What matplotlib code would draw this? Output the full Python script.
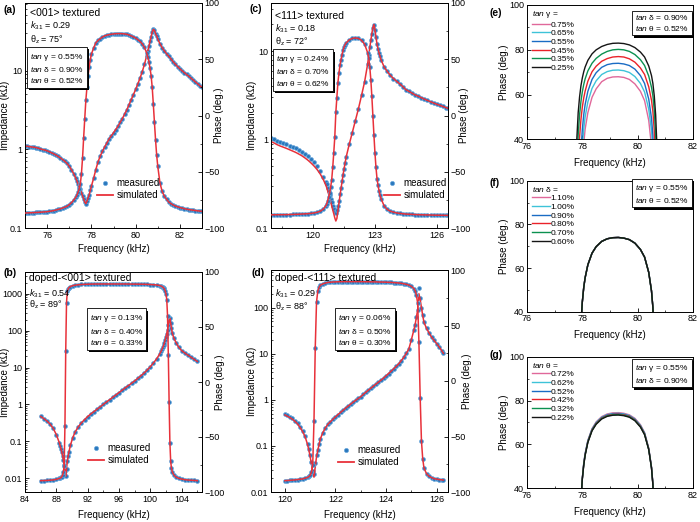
import matplotlib
matplotlib.use("Agg")
import matplotlib.pyplot as plt
import matplotlib.patheffects as pe
from matplotlib.lines import Line2D
from matplotlib.ticker import FixedLocator, MultipleLocator, LogLocator, NullFormatter

# ---------------- data ----------------
# (a) <001> textured
freq_a = [75.0, 75.1, 75.2, 75.3, 75.4, 75.5, 75.6, 75.7, 75.8, 75.9, 76.0, 76.1, 76.2, 76.3, 76.4,
          76.5, 76.6, 76.7, 76.8, 76.9, 77.0, 77.1, 77.2, 77.3,
          77.35, 77.4, 77.45, 77.5, 77.55, 77.6, 77.65, 77.7, 77.75, 77.8, 77.85, 77.9, 77.95, 78.0,
          78.1, 78.2, 78.3, 78.4, 78.5, 78.6, 78.7, 78.8, 78.9, 79.0, 79.1, 79.2, 79.3, 79.4, 79.5,
          79.6, 79.7, 79.8, 79.9, 80.0, 80.1, 80.2, 80.3, 80.4, 80.5,
          80.55, 80.6, 80.65, 80.7, 80.75, 80.8, 80.85, 80.9, 80.95, 81.0,
          81.1, 81.2, 81.3, 81.4, 81.5, 81.6, 81.7, 81.8, 81.9, 82.0, 82.1, 82.2, 82.3, 82.4, 82.5,
          82.6, 82.7, 82.8, 82.9, 83.0]
imp_a = [1.10, 1.09, 1.08, 1.07, 1.06, 1.05, 1.03, 1.01, 0.99, 0.975, 0.955, 0.93, 0.90, 0.875, 0.845,
         0.81, 0.776, 0.74, 0.703, 0.66, 0.61, 0.55, 0.49, 0.427,
         0.394, 0.363, 0.335, 0.309, 0.282, 0.257, 0.234, 0.214, 0.204, 0.219, 0.24, 0.264, 0.30, 0.339,
         0.427, 0.55, 0.69, 0.82, 0.944, 1.07, 1.2, 1.35, 1.48, 1.62, 1.78, 1.95, 2.19, 2.45, 2.79,
         3.16, 3.67, 4.27, 4.95, 5.75, 6.76, 8.04, 9.66, 12.0, 15.5,
         17.8, 20.4, 23.4, 26.9, 30.9, 33.3, 32.4, 29.5, 27.5, 25.1,
         21.9, 19.5, 17.8, 16.3, 15.1, 14.0, 12.9, 12.0, 11.2, 10.5, 9.93, 9.4, 8.91, 8.45, 8.0,
         7.59, 7.18, 6.79, 6.43, 6.1]
phase_a = [-86.7, -86.6, -86.5, -86.4, -86.3, -86.2, -86.1, -85.95, -85.8, -85.65, -85.5, -85.2, -84.9,
           -84.5, -84.0, -83.5, -82.9, -82.2, -81.5, -80.7, -79.2, -77.5, -75.2, -72.5,
           -70.5, -68, -65, -61, -52, -38, -20, -3, 13.5, 25, 35.5, 43, 49.5, 54.5,
           60, 64.5, 66.8, 68.3, 69.7, 70.8, 71.4, 71.9, 72.2, 72.5, 72.7, 72.8, 72.8, 72.7, 72.5,
           72.2, 71.6, 70.8, 69.9, 68.8, 67.4, 65.8, 63.6, 60.5, 55.5,
           52, 48, 42, 35.5, 25, 10, -6, -21.5, -35, -45,
           -60, -67.5, -71.8, -74.5, -77, -78.4, -79.6, -80.5, -81.2, -81.8, -82.3, -82.8, -83.3,
           -83.6, -83.9, -84.2, -84.45, -84.7, -84.95, -85.2]

# (c) <111> textured
freq_c = [117.95, 118.1, 118.25, 118.4, 118.55, 118.7, 118.85, 119.0, 119.15, 119.3, 119.45, 119.6,
          119.75, 119.9, 120.05, 120.2, 120.35, 120.5,
          120.6, 120.65, 120.7, 120.75, 120.8, 120.85, 120.9, 120.95, 121.0, 121.05, 121.1, 121.15,
          121.2, 121.25, 121.3, 121.35, 121.4, 121.45, 121.5, 121.55, 121.6,
          121.75, 121.9, 122.05, 122.2, 122.35, 122.5, 122.65,
          122.7, 122.75, 122.8, 122.85, 122.9, 122.95, 123.0, 123.05, 123.1, 123.15, 123.2, 123.25, 123.3,
          123.45, 123.6, 123.75, 123.9, 124.05, 124.2, 124.35, 124.5, 124.65, 124.8, 124.95, 125.1,
          125.25, 125.4, 125.55, 125.7, 125.85, 126.0, 126.15, 126.3, 126.45, 126.55]
imp_meas_c = [1.05, 1.01, 0.966, 0.935, 0.908, 0.881, 0.851, 0.822, 0.794, 0.759, 0.726, 0.687,
              0.646, 0.60, 0.552, 0.501, 0.442, 0.38,
              0.335, 0.313, 0.285, 0.26, 0.237, 0.215, 0.195, 0.178, 0.162, 0.151, 0.148, 0.158,
              0.178, 0.204, 0.24, 0.284, 0.336, 0.398, 0.468, 0.543, 0.631,
              0.881, 1.2, 1.64, 2.24, 3.16, 4.52, 7.24,
              9.0, 11.0, 13.2, 15.8, 18.2, 19.5, 17.4, 14.5, 12.0, 10.6, 9.55, 8.7, 7.94,
              6.61, 5.89, 5.31, 4.9, 4.57, 4.27, 3.98, 3.67, 3.51, 3.35, 3.2, 3.09,
              2.98, 2.87, 2.77, 2.68, 2.59, 2.51, 2.44, 2.37, 2.3, 2.25]
imp_sim_c = [0.95, 0.915, 0.875, 0.845, 0.82, 0.795, 0.768, 0.742, 0.716, 0.686, 0.656, 0.62,
             0.583, 0.542, 0.50, 0.455, 0.405, 0.35,
             0.31, 0.29, 0.265, 0.242, 0.22, 0.198, 0.178, 0.16, 0.145, 0.13, 0.12, 0.128,
             0.155, 0.19, 0.23, 0.278, 0.33, 0.398, 0.468, 0.543, 0.631,
             0.881, 1.2, 1.64, 2.24, 3.16, 4.52, 7.24,
             9.0, 11.0, 13.2, 15.8, 18.5, 20.0, 17.4, 14.5, 12.0, 10.6, 9.55, 8.7, 7.94,
             6.61, 5.89, 5.31, 4.9, 4.57, 4.27, 3.98, 3.67, 3.51, 3.35, 3.2, 3.09,
             2.98, 2.87, 2.77, 2.68, 2.59, 2.51, 2.44, 2.37, 2.3, 2.25]
phase_c = [-88.3, -88.25, -88.2, -88.18, -88.15, -88.1, -88.0, -87.95, -87.85, -87.75, -87.6, -87.45,
           -87.25, -87.0, -86.6, -86.0, -85.0, -83,
           -80.5, -79, -76, -72.5, -69, -63.5, -57, -46, -33, -19, 2.7, 16,
           29, 37.5, 44.5, 49.5, 54, 58, 61, 63, 64.5,
           67.2, 68.5, 69, 68.5, 66.8, 63.3, 55.5,
           51, 43, 32, 17, 0, -17, -33, -46, -56, -62, -67, -71, -74,
           -80.5, -83.5, -85.1, -85.9, -86.6, -87.0, -87.3, -87.6, -87.75, -87.9, -88.05, -88.15,
           -88.25, -88.35, -88.4, -88.45, -88.55, -88.6, -88.65, -88.7, -88.75, -88.8]

# (b) doped-<001> textured
freq_b = [86.0, 86.4, 86.8, 87.2, 87.6, 88.0, 88.4,
          88.5, 88.6, 88.7, 88.8, 88.9, 89.0, 89.1, 89.2, 89.3, 89.4, 89.5, 89.6,
          89.8, 90.1,
          90.4, 90.8, 91.2, 91.6, 92.0, 92.4, 92.8, 93.2, 93.6, 94.0, 94.4, 94.8, 95.2, 95.6,
          96.0, 96.4, 96.8, 97.2, 97.6, 98.0, 98.4, 98.8, 99.2, 99.6, 100.0, 100.4, 100.8, 101.2,
          101.4, 101.5, 101.6, 101.7, 101.8, 101.9, 102.0, 102.1, 102.2, 102.3, 102.4, 102.5,
          102.6, 102.7, 102.8,
          103.0, 103.3, 103.6, 104.0, 104.4, 104.8, 105.2, 105.6, 106.0]
imp_b = [0.47, 0.412, 0.355, 0.292, 0.224, 0.151, 0.089,
         0.074, 0.062, 0.05, 0.04, 0.031, 0.0224, 0.0158, 0.0112, 0.0178, 0.0283, 0.039, 0.05,
         0.078, 0.126,
         0.178, 0.245, 0.316, 0.385, 0.468, 0.55, 0.638, 0.738, 0.859, 1.0, 1.16, 1.34, 1.56, 1.8,
         2.09, 2.42, 2.81, 3.24, 3.74, 4.32, 5.07, 5.96, 7.08, 8.55, 10.5, 13.3, 17.1, 23.4,
         28.2, 31.6, 35.5, 39.8, 47.3, 56.2, 68.4, 83.2, 107, 141, 185, 215,
         158, 115, 87,
         63, 46.8, 36.3, 28.8, 24.8, 21.6, 19.0, 16.7, 14.6]
phase_b = [-89.7, -89.6, -89.5, -89.3, -89.0, -88.5, -87.6,
           -87.3, -86.8, -86, -84.5, -82, -76, -40, 28, 72, 82.4, 84.5, 85.7,
           86.8, 87.6,
           88.0, 88.4, 88.65, 88.8, 88.9, 89.0, 89.05, 89.1, 89.1, 89.1, 89.1, 89.1, 89.1, 89.1,
           89.1, 89.1, 89.1, 89.05, 89.0, 89.0, 88.95, 88.9, 88.85, 88.75, 88.6, 88.45, 88.2, 87.7,
           87.2, 86.8, 86.2, 85.5, 84.5, 83, 80, 75, 60, 25, -18, -55,
           -72, -78.5, -81.5,
           -84.5, -86.5, -87.5, -88.3, -88.8, -89.1, -89.3, -89.5, -89.7]

# (d) doped-<111> textured
freq_d = [120.0, 120.1, 120.2, 120.3, 120.4, 120.5, 120.6, 120.7, 120.8, 120.9,
          120.95, 121.0, 121.05, 121.1, 121.15, 121.2, 121.25, 121.3, 121.35,
          121.4, 121.5, 121.6, 121.7, 121.8, 121.9, 122.0, 122.1, 122.2, 122.3, 122.4, 122.5, 122.6,
          122.7, 122.8, 122.9, 123.0, 123.1, 123.2, 123.3, 123.4, 123.5, 123.6, 123.7, 123.8, 123.9,
          124.0, 124.1, 124.2, 124.3, 124.4, 124.5, 124.6, 124.7, 124.8, 124.9, 125.0, 125.1,
          125.15, 125.2, 125.25, 125.3, 125.35, 125.4, 125.45,
          125.5, 125.6, 125.7, 125.8, 125.9, 126.0, 126.1, 126.2, 126.27]
imp_meas_d = [0.49, 0.457, 0.427, 0.394, 0.355, 0.313, 0.263, 0.214, 0.166, 0.112,
              0.085, 0.063, 0.0447, 0.0282, 0.0251, 0.0417, 0.063, 0.083, 0.11,
              0.141, 0.195, 0.245, 0.295, 0.335, 0.38, 0.427, 0.479, 0.533, 0.593, 0.661, 0.73, 0.807,
              0.891, 0.977, 1.07, 1.17, 1.31, 1.46, 1.62, 1.79, 1.98, 2.19, 2.42, 2.67, 2.95,
              3.31, 3.72, 4.17, 4.71, 5.33, 6.03, 7.08, 8.32, 10.2, 12.6, 20, 32.7,
              42.7, 61.7, 89, 270, 158, 100, 67.6,
              47.9, 35.5, 28.2, 22.9, 19.5, 16.6, 14.1, 11.7, 10.2]
imp_sim_d = [0.47, 0.44, 0.41, 0.378, 0.34, 0.30, 0.252, 0.205, 0.158, 0.105,
             0.08, 0.058, 0.04, 0.026, 0.021, 0.035, 0.058, 0.08, 0.107,
             0.141, 0.195, 0.245, 0.295, 0.335, 0.38, 0.427, 0.479, 0.533, 0.593, 0.661, 0.73, 0.807,
             0.891, 0.977, 1.07, 1.17, 1.31, 1.46, 1.62, 1.79, 1.98, 2.19, 2.42, 2.67, 2.95,
             3.31, 3.72, 4.17, 4.71, 5.33, 6.03, 7.08, 8.32, 10.2, 12.6, 20, 32.7,
             42.7, 61.7, 89, 200, 150, 100, 67.6,
             47.9, 35.5, 28.2, 22.9, 19.5, 16.6, 14.1, 11.7, 10.2]
phase_d = [-89.8, -89.65, -89.5, -89.3, -89.1, -88.8, -88.5, -88.2, -87.6, -86.8,
           -86.0, -84.8, -82, -75.4, -36, 30, 71, 81, 84.3,
           86.3, 87.5, 88.2, 88.8, 89.0, 89.2, 89.3, 89.4, 89.45, 89.5, 89.5, 89.5, 89.5,
           89.5, 89.5, 89.5, 89.5, 89.45, 89.4, 89.4, 89.35, 89.3, 89.3, 89.2, 89.15, 89.1,
           89.0, 88.9, 88.8, 88.65, 88.5, 88.3, 88.0, 87.6, 87.1, 86.4, 85.3, 83.3,
           81.5, 77.5, 70, 35, -15, -54, -70,
           -78.4, -83.5, -85.8, -87.0, -88, -88.4, -88.8, -89.05, -89.2]

# (e)-(g) simulated phase domes
freq_dome = [77.7, 77.75, 77.8, 77.85, 77.9, 77.95, 78.0, 78.05, 78.1, 78.2, 78.35, 78.5, 78.7, 78.9,
             79.1, 79.3, 79.5, 79.7, 79.9, 80.1, 80.25, 80.4, 80.5, 80.55, 80.6, 80.65, 80.7, 80.75, 80.8]
labels_e = ["0.75%", "0.65%", "0.55%", "0.45%", "0.35%", "0.25%"]
e_075 = [-50, -40, -30, -20, -5, 10, 27, 38, 44.5, 52, 58.8, 62.6, 65.8, 67.3, 67.9, 68.0, 67.7, 66.8,
         64.8, 61.5, 57.3, 48.5, 37, 25, 5, -20, -30, -40, -50]
e_065 = [-45, -35, -25, -10, 5, 22, 37, 44.5, 50, 56.8, 62.8, 66.2, 69, 70.3, 70.9, 71.0, 70.7, 69.9,
         68.1, 65, 61.2, 53.5, 44, 35, 15, -10, -25, -35, -45]
e_055 = [-40, -30, -15, 0, 18, 35, 44.5, 51, 55.5, 61.5, 66.8, 69.8, 72.2, 73.4, 73.9, 74.0, 73.7, 73.0,
         71.4, 68.5, 65.0, 58.0, 49.5, 42.0, 25, 0, -20, -30, -40]
e_045 = [-30, -10, 10, 28, 41, 49, 54.5, 58.5, 61.5, 66, 70.2, 72.7, 74.9, 76.1, 76.8, 77.0, 76.8, 76,
         74.5, 71.9, 69, 63.5, 57.5, 52.5, 44, 28, 5, -15, -30]
e_035 = [-20, 5, 27, 42, 51, 57, 61.3, 64.5, 67, 70.6, 74, 76.2, 78.1, 79.3, 80, 80.2, 80, 79.3,
         77.9, 75.6, 73, 68.3, 63.3, 59.5, 53, 42, 25, 0, -20]
e_025 = [-10, 20, 40, 52, 59, 64, 67.5, 70.2, 72.3, 75.3, 78.2, 80, 81.5, 82.4, 82.9, 83.0, 82.8, 82.2,
         81, 79, 76.8, 72.8, 68.5, 65, 59.5, 51, 36, 10, -10]

labels_f = ["1.10%", "1.00%", "0.90%", "0.80%", "0.70%", "0.60%"]
f_all = [-40, -30, -15, 0, 18, 35, 44.5, 51, 55.5, 61.5, 66.8, 69.8, 72.2, 73.4, 73.9, 74.0, 73.7, 73.0,
         71.4, 68.5, 65.0, 58.0, 49.5, 42.0, 25, 0, -20, -30, -40]

labels_g = ["0.72%", "0.62%", "0.52%", "0.42%", "0.32%", "0.22%"]
g_072 = [-40, -30, -15, 0, 18, 35, 44.7, 51.3, 55.8, 61.9, 67.2, 70.3, 72.7, 73.9, 74.4, 74.5, 74.2, 73.5,
         71.9, 69.0, 65.4, 58.3, 49.7, 42.2, 25, 0, -20, -30, -40]
g_062 = [-40, -30, -15, 0, 18, 35, 44.6, 51.2, 55.7, 61.7, 67.0, 70.0, 72.4, 73.6, 74.1, 74.2, 73.9, 73.2,
         71.6, 68.7, 65.2, 58.1, 49.6, 42.1, 25, 0, -20, -30, -40]
g_052 = [-40, -30, -15, 0, 18, 35, 44.5, 51, 55.5, 61.5, 66.8, 69.8, 72.2, 73.4, 73.9, 74.0, 73.7, 73.0,
         71.4, 68.5, 65.0, 58.0, 49.5, 42.0, 25, 0, -20, -30, -40]
g_042 = [-40, -30, -15, 0, 18, 35, 44.4, 50.8, 55.3, 61.3, 66.6, 69.6, 72.0, 73.2, 73.7, 73.8, 73.5, 72.8,
         71.2, 68.3, 64.8, 57.9, 49.4, 41.9, 25, 0, -20, -30, -40]
g_032 = [-40, -30, -15, 0, 18, 35, 44.3, 50.6, 55.1, 61.1, 66.4, 69.4, 71.8, 73.0, 73.5, 73.6, 73.3, 72.6,
         71.0, 68.1, 64.6, 57.7, 49.3, 41.8, 25, 0, -20, -30, -40]
g_022 = [-40, -30, -15, 0, 18, 35, 44.2, 50.4, 54.9, 60.9, 66.2, 69.2, 71.6, 72.8, 73.3, 73.4, 73.1, 72.4,
         70.8, 67.9, 64.4, 57.6, 49.2, 41.7, 25, 0, -20, -30, -40]

# ---------------- style ----------------
plt.rcParams.update({
    'font.family': ['Liberation Sans', 'DejaVu Sans'],
    'mathtext.fontset': 'custom',
    'mathtext.rm': 'Liberation Sans',
    'mathtext.it': 'Liberation Sans:italic',
    'mathtext.bf': 'Liberation Sans:bold',
    'xtick.direction': 'in', 'ytick.direction': 'in',
    'xtick.major.size': 3, 'ytick.major.size': 3,
    'xtick.minor.size': 1.6, 'ytick.minor.size': 1.6,
    'xtick.major.width': 0.6, 'ytick.major.width': 0.6,
    'xtick.minor.width': 0.5, 'ytick.minor.width': 0.5,
    'axes.linewidth': 0.7,
})
BLUE = '#2a78bd'
BLUE_E = '#6aa8dc'
RED = '#e8313a'
DOME_COLORS = ['#e0689a', '#3ec3d8', '#1a6cc4', '#ea2229', '#0b9150', '#151515']

W, H = 700, 522
fig = plt.figure(figsize=(W / 100, H / 100), dpi=100)


def fx(x):
    return x / W


def fy(y):
    return 1 - y / H


def shadow_box(x, y, s, size=6, ls=1.3):
    t = fig.text(fx(x), fy(y), s, ha='left', va='center', fontsize=size, linespacing=ls,
                 bbox=dict(boxstyle='square,pad=0.35', fc='white', ec='black', lw=0.6))
    t.get_bbox_patch().set_path_effects([
        pe.SimplePatchShadow(offset=(1.6, -1.6), shadow_rgbFace='black', alpha=1.0), pe.Normal()])
    return t


def imp_panel(px, f, zm, zs, pm, ps, xlim, xmaj, xminor, ylim, yt, ytl, leg_xy, lab_l, lab_r, xlpad):
    l, t, r, b = px
    ax = fig.add_axes([fx(l), fy(b), (r - l) / W, (b - t) / H])
    ax.set_yscale('log')
    ax2 = ax.twinx()
    mk = dict(ls='none', marker='o', ms=2.8, mfc=BLUE, mec=BLUE_E, mew=0.5, zorder=2)
    ax.plot(f, zm, **mk)
    ax.plot(f, zs, color=RED, lw=1.1, zorder=3)
    ax2.plot(f, pm, **mk)
    ax2.plot(f, ps, color=RED, lw=1.1, zorder=3)
    ax.set_xlim(xlim)
    ax.set_ylim(ylim)
    ax2.set_ylim(-100, 100)
    ax.xaxis.set_major_locator(FixedLocator(xmaj))
    ax.xaxis.set_minor_locator(MultipleLocator(xminor))
    ax.set_yticks(yt)
    ax.set_yticklabels(ytl)
    ax.yaxis.set_minor_locator(LogLocator(base=10, subs=range(2, 10), numticks=30))
    ax.yaxis.set_minor_formatter(NullFormatter())
    ax2.set_yticks([-100, -50, 0, 50, 100])
    ax2.yaxis.set_minor_locator(MultipleLocator(25))
    ax.tick_params(which='both', labelsize=6.5, pad=2)
    ax2.tick_params(which='both', labelsize=6.5, pad=2)
    ax.set_xlabel('Frequency (kHz)', fontsize=7, labelpad=xlpad)
    ax.set_ylabel('Impedance (k\u03a9)', fontsize=7)
    ax.yaxis.set_label_coords(lab_l, 0.5)
    ax2.set_ylabel('Phase (deg.)', fontsize=7)
    ax2.yaxis.set_label_coords(lab_r, 0.5)
    handles = [Line2D([], [], ls='none', marker='o', ms=3, mfc=BLUE, mec=BLUE_E, mew=0.5),
               Line2D([], [], color=RED, lw=1.3)]
    ax2.legend(handles, ['measured', 'simulated'], loc='upper left',
               bbox_to_anchor=(fx(leg_xy[0]), fy(leg_xy[1])), bbox_transform=fig.transFigure,
               frameon=False, fontsize=7, handlelength=1.6, handletextpad=0.4,
               labelspacing=0.25, borderpad=0, borderaxespad=0)
    return ax, ax2


def dome_panel(px, curves, labels, title, xlpad=5):
    l, t, r, b = px
    ax = fig.add_axes([fx(l), fy(b), (r - l) / W, (b - t) / H])
    for vals, c in zip(curves, DOME_COLORS):
        ax.plot(freq_dome, vals, color=c, lw=1.0)
    ax.set_xlim(76, 82)
    ax.set_ylim(40, 100)
    ax.set_xticks([76, 78, 80, 82])
    ax.xaxis.set_minor_locator(MultipleLocator(1))
    ax.set_yticks([40, 60, 80, 100])
    ax.yaxis.set_minor_locator(MultipleLocator(10))
    ax.tick_params(which='both', labelsize=6.5, pad=2)
    ax.set_xlabel('Frequency (kHz)', fontsize=7, labelpad=xlpad)
    ax.set_ylabel('Phase (deg.)', fontsize=7)
    ax.yaxis.set_label_coords(-0.11, 0.5)
    handles = [Line2D([], [], color=c, lw=1.0) for c in DOME_COLORS]
    ax.legend(handles, labels, title=title, loc='upper left',
              bbox_to_anchor=(fx(l + 5), fy(t + 4)), bbox_transform=fig.transFigure,
              frameon=False, fontsize=6, title_fontsize=6, alignment='left',
              handlelength=2.1, handletextpad=0.15, labelspacing=0.1, borderpad=0, borderaxespad=0)
    return ax


# ---------------- panels ----------------
imp_panel((25, 3, 202, 228), freq_a, imp_a, imp_a, phase_a, phase_a,
          (75, 83), [76, 78, 80, 82], 1, (0.1, 72), [0.1, 1, 10], ['0.1', '1', '10'],
          (97, 178), -0.085, 1.068, 3)
imp_panel((271, 3, 448, 228), freq_c, imp_meas_c, imp_sim_c, phase_c, phase_c,
          (117.95, 126.55), [120, 123, 126], 1.5, (0.1, 35), [0.1, 1, 10], ['0.1', '1', '10'],
          (384, 178), -0.079, 1.06, 3)
imp_panel((25, 272, 202, 492), freq_b, imp_b, imp_b, phase_b, phase_b,
          (84, 106.6), [84, 88, 92, 96, 100, 104], 2, (0.0042, 3900),
          [0.01, 0.1, 1, 10, 100, 1000], ['0.01', '0.1', '1', '10', '100', '1000'],
          (88, 443), -0.085, 1.073, 4.5)
imp_panel((271, 270, 448, 492), freq_d, imp_meas_d, imp_sim_d, phase_d, phase_d,
          (119.45, 126.45), [120, 122, 124, 126], 1, (0.01, 655),
          [0.01, 0.1, 1, 10, 100], ['0.01', '0.1', '1', '10', '100'],
          (338, 445), -0.079, 1.08, 4.5)

dome_panel((527, 5, 693, 139.5), [e_075, e_065, e_055, e_045, e_035, e_025], labels_e,
           '$\\mathit{tan}$ \u03b3 =')
dome_panel((527, 180.7, 693, 311.7), [f_all, f_all, f_all, f_all, f_all, f_all], labels_f,
           '$\\mathit{tan}$ \u03b4 =')
dome_panel((527, 356.7, 693, 488.3), [g_072, g_062, g_052, g_042, g_032, g_022], labels_g,
           '$\\mathit{tan}$ \u03b8 =')

# ---------------- annotations ----------------
TAN = '$\\mathit{tan}$ '


def panel_label(x, y, s):
    fig.text(fx(x), fy(y), s, ha='left', va='center', fontsize=7.5, fontweight='bold')


def header(x, y0, title, k, th, dy=(0, 13, 26)):
    fig.text(fx(x), fy(y0 + dy[0]), title, ha='left', va='center', fontsize=7.5)
    fig.text(fx(x), fy(y0 + dy[1]), '$\\mathit{k}_{31}$ = ' + k, ha='left', va='center', fontsize=6.5)
    fig.text(fx(x), fy(y0 + dy[2]), '\u03b8$_{\\mathrm{z}}$ = ' + th, ha='left', va='center', fontsize=6.5)


panel_label(3, 10, '(a)')
header(30, 13, '<001> textured', '0.29', '75\u00b0', (0, 13, 27))
shadow_box(30, 68.5, TAN + '\u03b3 = 0.55%\n' + TAN + '\u03b4 = 0.90%\n' + TAN + '\u03b8 = 0.52%')

panel_label(250, 9, '(c)')
header(275, 16, '<111> textured', '0.18', '72\u00b0', (0, 13, 26))
shadow_box(276, 71, TAN + '\u03b3 = 0.24%\n' + TAN + '\u03b4 = 0.70%\n' + TAN + '\u03b8 = 0.62%')

panel_label(3, 273, '(b)')
header(29, 278, 'doped-<001> textured', '0.54', '89\u00b0', (0, 16, 27))
shadow_box(89.5, 330, TAN + '\u03b3 = 0.13%\n' + TAN + '\u03b4 = 0.40%\n' + TAN + '\u03b8 = 0.33%')

panel_label(252, 273, '(d)')
header(275, 278, 'doped-<111> textured', '0.29', '88\u00b0', (0, 16, 29))
shadow_box(338, 330, TAN + '\u03b3 = 0.06%\n' + TAN + '\u03b4 = 0.50%\n' + TAN + '\u03b8 = 0.30%')

panel_label(490, 13, '(e)')
shadow_box(635, 23, TAN + '\u03b4 = 0.90%\n' + TAN + '\u03b8 = 0.52%', size=6, ls=1.15)
panel_label(490, 183, '(f)')
shadow_box(635, 194, TAN + '\u03b3 = 0.55%\n' + TAN + '\u03b8 = 0.52%', size=6, ls=1.15)
panel_label(490, 355, '(g)')
shadow_box(635, 374, TAN + '\u03b3 = 0.55%\n' + TAN + '\u03b4 = 0.90%', size=6, ls=1.15)

fig.savefig('out.png', dpi=100, facecolor='white')
